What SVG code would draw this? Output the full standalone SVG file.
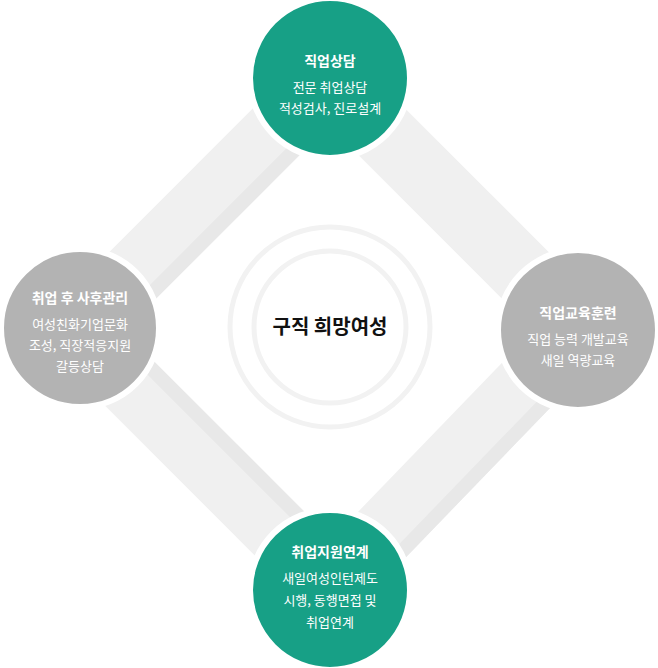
<svg xmlns="http://www.w3.org/2000/svg" width="658" height="668" viewBox="0 0 658 668">
<style>
.band{fill:#f0f0f0}.strip{fill:#e8e8e8}
.node{stroke:#fff;stroke-width:6}
.g{fill:#17a086}.y{fill:#b3b3b3}
text{font-family:"Noto Sans CJK KR","Noto Sans",sans-serif;text-anchor:middle;fill:#fff}
.t{font-size:14px;font-weight:bold}.s{font-size:13px}
.ring{fill:none;stroke:#f2f2f2;stroke-width:5}
</style>
<rect width="658" height="668" fill="#fff"/>
<g id="connectors">
<g transform="translate(454,204) rotate(45)"><rect class="band" x="-180" y="-33" width="360" height="66"/></g>
<g transform="translate(454,460) rotate(134)"><rect class="band" x="-180" y="-33" width="360" height="66"/><rect class="strip" x="-180" y="-33" width="360" height="14"/></g>
<g transform="translate(205,459) rotate(225)"><rect class="band" x="-180" y="-33" width="360" height="66"/><rect class="strip" x="-180" y="19" width="360" height="14"/></g>
<g transform="translate(205,203) rotate(-45)"><rect class="band" x="-180" y="-33" width="360" height="66"/><rect class="strip" x="-180" y="19" width="360" height="14"/></g>
</g>
<g id="center">
<circle class="ring" cx="330" cy="327" r="100"/>
<circle class="ring" cx="330" cy="327" r="76"/>
<text x="330" y="334" style="fill:#111;font-size:20px;font-weight:bold">구직 희망여성</text>
</g>
<g id="top"><circle class="node g" cx="330" cy="78" r="80"/>
<text class="t" x="330" y="66">직업상담</text><text class="s" x="330" y="92">전문 취업상담</text><text class="s" x="330" y="113">적성검사, 진로설계</text></g>
<g id="right"><circle class="node y" cx="578" cy="330" r="80"/>
<text class="t" x="578" y="318">직업교육훈련</text><text class="s" x="578" y="344">직업 능력 개발교육</text><text class="s" x="578" y="365">새일 역량교육</text></g>
<g id="left"><circle class="node y" cx="80" cy="328" r="79"/>
<text class="t" x="80" y="303">취업 후 사후관리</text><text class="s" x="80" y="329">여성친화기업문화</text><text class="s" x="80" y="350">조성, 직장적응지원</text><text class="s" x="80" y="371">갈등상담</text></g>
<g id="bottom"><circle class="node g" cx="330" cy="590" r="80"/>
<text class="t" x="330" y="557">취업지원연계</text><text class="s" x="330" y="583">새일여성인턴제도</text><text class="s" x="330" y="605">시행, 동행면접 및</text><text class="s" x="330" y="627">취업연계</text></g>
</svg>
